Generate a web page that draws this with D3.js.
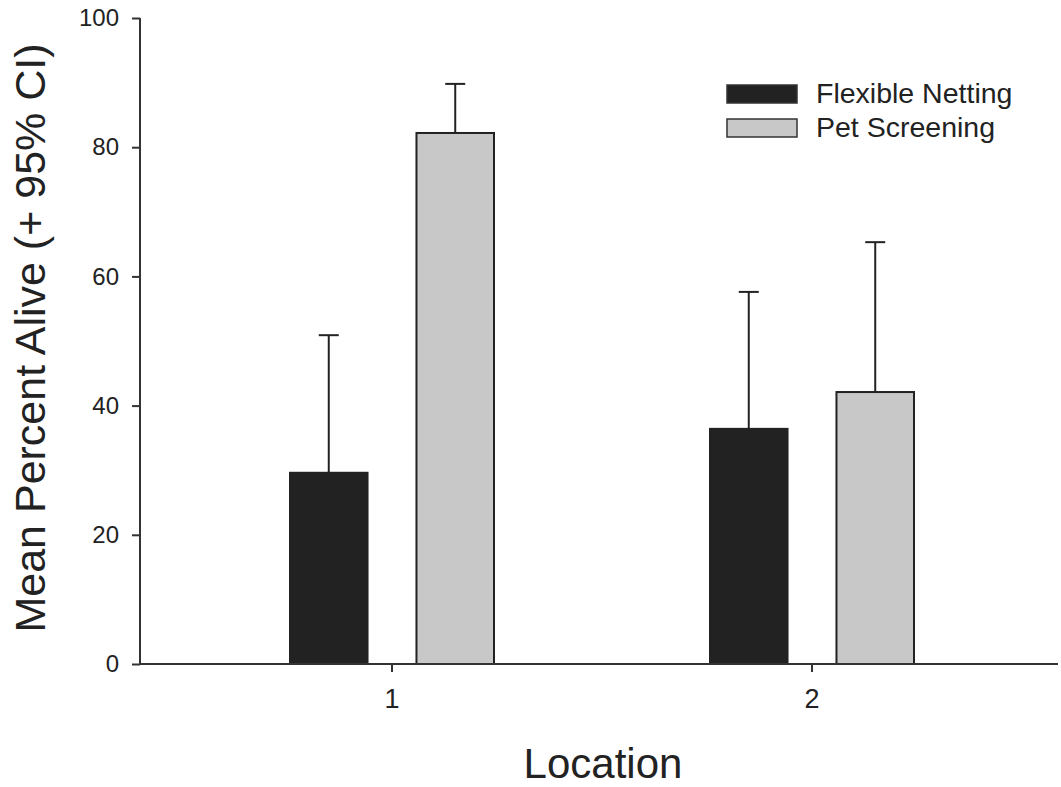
<!DOCTYPE html>
<html>
<head>
<meta charset="utf-8">
<script src="https://cdn.jsdelivr.net/npm/d3@7"></script>
<style>
  html, body { margin: 0; padding: 0; background: #fff; }
  svg { display: block; font-family: "Liberation Sans", Arial, Helvetica, sans-serif; }
</style>
</head>
<body>
<svg id="chart" width="1061" height="787"></svg>
<script>
// ---- Data ----
const locations = ["1", "2"];
const seriesNames = ["Flexible Netting", "Pet Screening"];
const flexibleMeans = [29.6, 36.4];
const flexibleUpper = [50.9, 57.6];
const petMeans = [82.2, 42.1];
const petUpper = [89.8, 65.3];
const yTicks = [0, 20, 40, 60, 80, 100];
const seriesColors = ["#222222", "#c8c8c8"];

const rows = [];
locations.forEach((loc, i) => {
  rows.push({ loc, series: seriesNames[0], mean: flexibleMeans[i], upper: flexibleUpper[i] });
  rows.push({ loc, series: seriesNames[1], mean: petMeans[i], upper: petUpper[i] });
});

const svg = d3.select("#chart");
const axisLeft = 140, axisRight = 1058;
const y = d3.scaleLinear().domain([0, 100]).range([664, 18]);
const x0 = d3.scaleBand().domain(locations).range([182, 1022]).padding(0);
const x1 = d3.scaleBand().domain(seriesNames).range([-102, 102]).paddingInner(0.387);
const color = d3.scaleOrdinal().domain(seriesNames).range(seriesColors);

// Bars
const g = svg.append("g");
g.selectAll("rect.bar").data(rows).enter().append("rect")
  .attr("class", "bar")
  .attr("x", d => x0(d.loc) + x0.bandwidth() / 2 + x1(d.series))
  .attr("y", d => y(d.mean))
  .attr("width", x1.bandwidth())
  .attr("height", d => y(0) - y(d.mean))
  .attr("fill", d => color(d.series))
  .attr("stroke", "#222")
  .attr("stroke-width", 2);

// Error bars
const cx = d => x0(d.loc) + x0.bandwidth() / 2 + x1(d.series) + x1.bandwidth() / 2;
g.selectAll("line.err").data(rows).enter().append("line")
  .attr("x1", cx).attr("x2", cx)
  .attr("y1", d => y(d.mean)).attr("y2", d => y(d.upper))
  .attr("stroke", "#222").attr("stroke-width", 2);
g.selectAll("line.cap").data(rows).enter().append("line")
  .attr("x1", d => cx(d) - 10).attr("x2", d => cx(d) + 10)
  .attr("y1", d => y(d.upper)).attr("y2", d => y(d.upper))
  .attr("stroke", "#222").attr("stroke-width", 2);

// Y axis
const yAxis = d3.axisLeft(y).tickValues(yTicks).tickSize(8).tickPadding(13).tickFormat(d3.format("d"));
const yg = svg.append("g").attr("transform", `translate(${axisLeft},0)`).call(yAxis);
yg.select(".domain").remove();
yg.selectAll(".tick line").attr("stroke", "#333").attr("stroke-width", 2);
yg.selectAll(".tick text").attr("font-size", 24).attr("fill", "#222")
  .attr("font-family", "Liberation Sans, Arial, sans-serif");
svg.append("line").attr("x1", axisLeft).attr("x2", axisLeft)
  .attr("y1", y(100)).attr("y2", y(0) + 1)
  .attr("stroke", "#333").attr("stroke-width", 2);

// X axis
svg.append("line").attr("x1", axisLeft - 1).attr("x2", axisRight)
  .attr("y1", y(0)).attr("y2", y(0))
  .attr("stroke", "#333").attr("stroke-width", 2);
const xAxis = d3.axisBottom(x0).tickSize(8).tickPadding(17);
const xg = svg.append("g").attr("transform", `translate(0,${y(0)})`).call(xAxis);
xg.select(".domain").remove();
xg.selectAll(".tick line").attr("stroke", "#333").attr("stroke-width", 2);
xg.selectAll(".tick text").attr("font-size", 27).attr("fill", "#222")
  .attr("font-family", "Liberation Sans, Arial, sans-serif");

// Axis titles
svg.append("text").attr("x", 603).attr("y", 778)
  .attr("text-anchor", "middle").attr("font-size", 42).attr("fill", "#222")
  .text("Location");
svg.append("text")
  .attr("transform", "translate(45,338) rotate(-90)")
  .attr("text-anchor", "middle").attr("font-size", 43).attr("fill", "#222")
  .text("Mean Percent Alive (+ 95% CI)");

// Legend
const legend = svg.append("g");
seriesNames.forEach((s, i) => {
  const ly = 85 + i * 34;
  legend.append("rect").attr("x", 727).attr("y", ly).attr("width", 70).attr("height", 18)
    .attr("fill", color(s)).attr("stroke", "#333").attr("stroke-width", 1.5);
  legend.append("text").attr("x", 816).attr("y", ly + 18)
    .attr("font-size", 28.5).attr("fill", "#222").text(s);
});
</script>
</body>
</html>
